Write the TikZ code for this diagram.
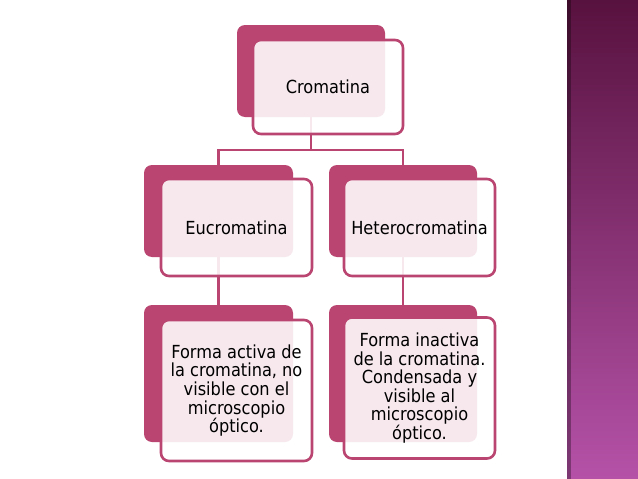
\documentclass[tikz,border=0pt]{standalone}
\usepackage{fontspec}
\setmainfont{DejaVu Sans Condensed}
\definecolor{rose}{HTML}{BA4570}
\definecolor{barTop}{HTML}{58123F}
\definecolor{barBot}{HTML}{B552A8}
\begin{document}
\begin{tikzpicture}[x=1pt,y=-1pt,
  back/.style={fill=rose, rounded corners=8pt, inner sep=0pt},
  front/.style={draw=rose, line width=2.6pt, fill=white, fill opacity=0.88, text opacity=1,
    rounded corners=8pt, inner sep=0pt, align=center, font=\fontsize{18}{18.6}\selectfont},
  conn/.style={draw=rose, line width=2.4pt}]
\useasboundingbox (0,0) rectangle (638,479);
\fill[white] (0,0) rectangle (638,479);
% side bar
\shade[top color=barTop, bottom color=barBot] (567,0) rectangle (638,479);
\fill[black, opacity=0.3] (567,0) rectangle (571,479);
% back boxes
\node[back, minimum width=148pt, minimum height=92pt] (topback) at (311,71) {};
\node[back, minimum width=149pt, minimum height=92pt] (eback) at (218.5,211) {};
\node[back, minimum width=148pt, minimum height=92pt] (hback) at (403,211) {};
\node[back, minimum width=149pt, minimum height=137pt] (edback) at (218.5,373.5) {};
\node[back, minimum width=148pt, minimum height=137pt] (hdback) at (403,373.5) {};
% connectors
\coordinate (hub) at (311,150);
\draw[conn] (topback.south) -- (hub);
\draw[conn] (hub) -| (eback.north);
\draw[conn] (hub) -| (hback.north);
\draw[conn] (eback.south) -- (edback.north);
\draw[conn] (hback.south) -- (hdback.north);
% front boxes
\node[front, minimum width=150pt, minimum height=94pt] (top) at (328,87) {Cromatina};
\node[front, minimum width=151pt, minimum height=97pt] (eu) at (236.5,227.5) {Eucromatina};
\node[front, minimum width=151pt, minimum height=97pt] (het) at (419.5,227.5) {Heterocromatina};
\node[front, minimum width=151pt, minimum height=141pt] (eudesc) at (236.5,390.5)
  {Forma activa de\\la cromatina, no\\visible con el\\microscopio\\óptico.};
\node[front, minimum width=151pt, minimum height=141pt] (hetdesc) at (419.5,388)
  {Forma inactiva\\de la cromatina.\\Condensada y\\visible al\\microscopio\\óptico.};
\end{tikzpicture}
\end{document}
